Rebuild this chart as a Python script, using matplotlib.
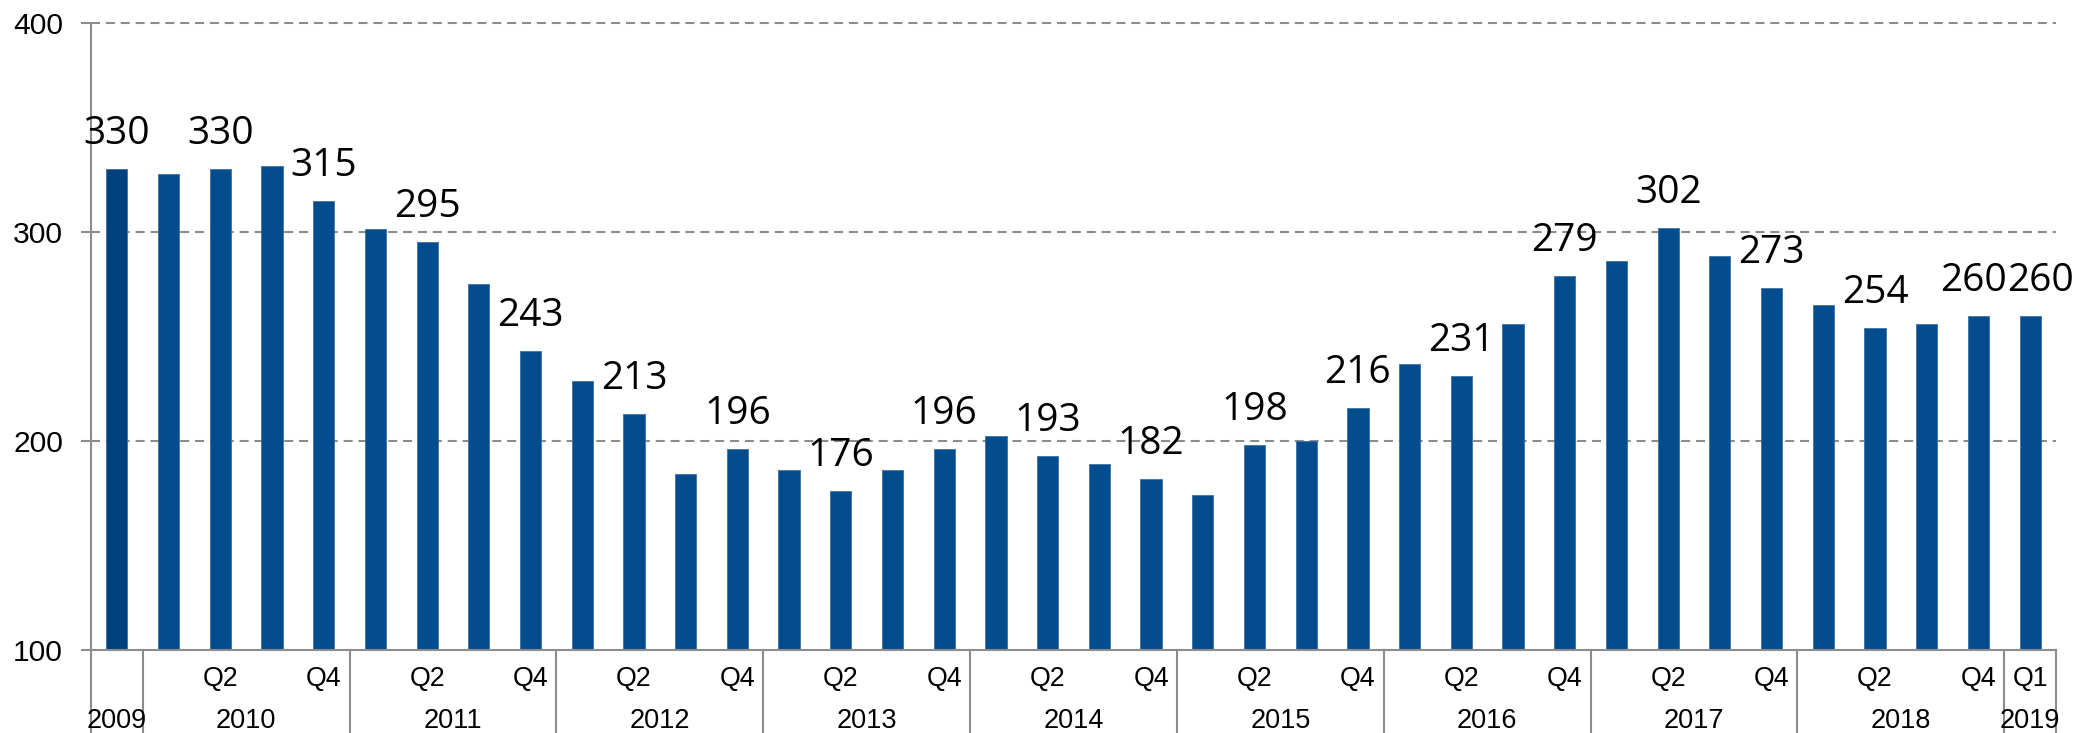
import numpy as np
import matplotlib
matplotlib.use("Agg")
import matplotlib.pyplot as plt

plt.rcParams['lines.scale_dashes'] = False

# ---------------- data ----------------
year_labels = ['2009', '2010', '2011', '2012', '2013', '2014',
               '2015', '2016', '2017', '2018', '2019']
year_counts = [1, 4, 4, 4, 4, 4, 4, 4, 4, 4, 1]

quarter_labels = ['',
                  '', 'Q2', '', 'Q4',
                  '', 'Q2', '', 'Q4',
                  '', 'Q2', '', 'Q4',
                  '', 'Q2', '', 'Q4',
                  '', 'Q2', '', 'Q4',
                  '', 'Q2', '', 'Q4',
                  '', 'Q2', '', 'Q4',
                  '', 'Q2', '', 'Q4',
                  '', 'Q2', '', 'Q4',
                  'Q1']

values = [330,
          327.6, 330, 331.7, 315,
          301.4, 295, 275.2, 243,
          228.5, 213, 184.0, 196,
          186.0, 176, 186.1, 196,
          202.2, 193, 189.1, 182,
          174.2, 198, 200.1, 216,
          236.7, 231, 255.9, 279,
          286.1, 302, 288.3, 273,
          265.3, 254, 256.2, 260,
          260]

data_labels = ['330',
               '', '330', '', '315',
               '', '295', '', '243',
               '', '213', '', '196',
               '', '176', '', '196',
               '', '193', '', '182',
               '', '198', '', '216',
               '', '231', '', '279',
               '', '302', '', '273',
               '', '254', '', '260',
               '260']

y_ticks = [100, 200, 300, 400]

# ---------------- style ----------------
W, H = 2093, 733
grey = '#8c8c8c'
bar_first = '#00407e'
bar_color = '#034c8e'
edge_color = '#3f72a8'

fig = plt.figure(figsize=(W / 100, H / 100), dpi=100)
ax_left, ax_right, ax_top, ax_bottom = 91, 2056, 23, 650
ax = fig.add_axes([ax_left / W, (H - ax_bottom) / H,
                   (ax_right - ax_left) / W, (ax_bottom - ax_top) / H])

x = np.arange(len(values))
colors = [bar_first] + [bar_color] * (len(values) - 1)
ax.bar(x, values, width=0.41, color=colors, edgecolor=edge_color,
       linewidth=0.6, zorder=2)

ax.set_xlim(-0.5, len(values) - 0.5)
ax.set_ylim(y_ticks[0], y_ticks[-1])

# gridlines
for yv in y_ticks[1:]:
    ax.axhline(yv, color=grey, linewidth=1.5, linestyle=(0, (6.5, 4.2)),
               zorder=1, clip_on=False)

# spines
for s in ['top', 'right']:
    ax.spines[s].set_visible(False)
for s in ['left', 'bottom']:
    ax.spines[s].set_color(grey)
    ax.spines[s].set_linewidth(1.5)

ax.set_yticks(y_ticks)
ax.set_yticklabels([str(t) for t in y_ticks], fontsize=21.6,
                   family='Liberation Sans')
ax.tick_params(axis='y', length=7.2, width=1.5, color=grey, pad=13,
               direction='out')
ax.set_xticks([])

# quarter labels
for i, q in enumerate(quarter_labels):
    if q:
        ax.annotate(q, xy=(i, 0), xycoords=('data', 'axes fraction'),
                    xytext=(0, -25.9), textcoords='offset points',
                    ha='center', va='baseline', fontsize=19.3,
                    family='Liberation Sans', annotation_clip=False)

# year labels and separators
ext = -(H - ax_bottom) / (ax_bottom - ax_top)
start = 0
bounds = [-0.5]
for yl, n in zip(year_labels, year_counts):
    center = start + (n - 1) / 2
    ax.annotate(yl, xy=(center, 0), xycoords=('data', 'axes fraction'),
                xytext=(0, -56.2), textcoords='offset points',
                ha='center', va='baseline', fontsize=19.5,
                family='Liberation Sans', annotation_clip=False)
    start += n
    bounds.append(start - 0.5)
for b in bounds:
    ax.plot([b, b], [0, ext], color=grey, linewidth=1.5,
            transform=ax.get_xaxis_transform(), clip_on=False)

# data labels
label_dx = {len(values) - 2: -3.6, len(values) - 1: 7.2}
for i, (v, lbl) in enumerate(zip(values, data_labels)):
    if lbl:
        ax.annotate(lbl, xy=(i, v), xytext=(label_dx.get(i, 0), 18),
                    textcoords='offset points', ha='center', va='baseline',
                    fontsize=28, family='Open Sans', annotation_clip=False)

fig.savefig('out.png', dpi=100)
